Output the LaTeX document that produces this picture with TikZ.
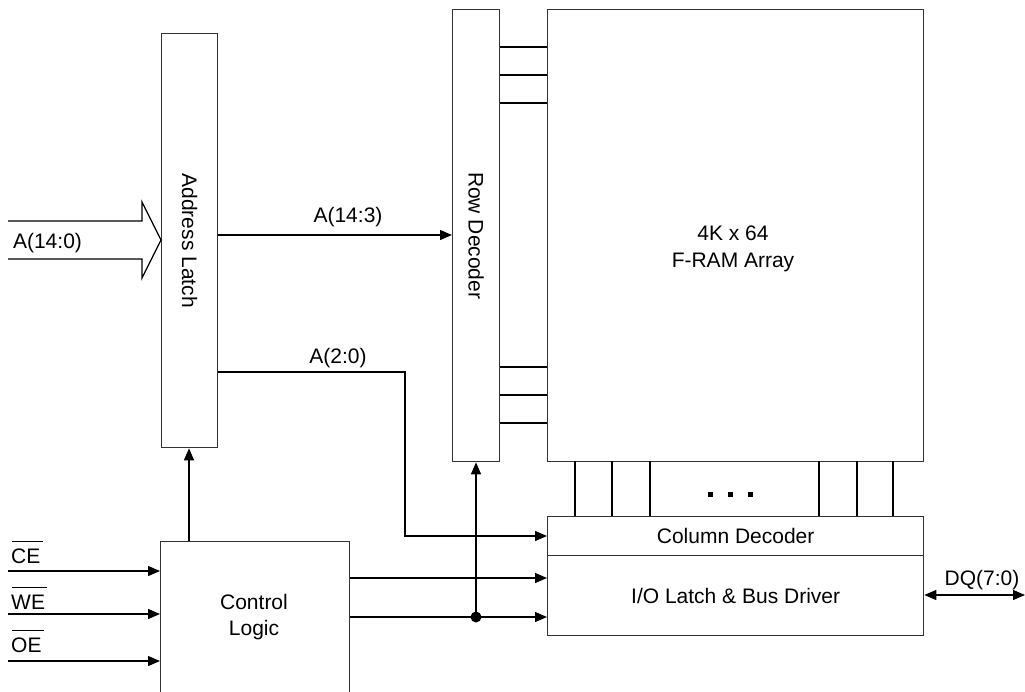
\documentclass[tikz,border=0pt]{standalone}
\usepackage{fontspec}
\setmainfont{Liberation Sans}
\usetikzlibrary{positioning, calc, arrows.meta}

\begin{document}
\begin{tikzpicture}[
x=1pt, y=-1pt,
block/.style={rectangle, draw=black!80, line width=1.3pt, inner sep=0pt, anchor=north west},
label/.style={font=\fontsize{21}{26.5}\selectfont, align=center, inner sep=0pt},
arrow/.style={-{Triangle[length=12pt, width=10pt]}, line width=1.3pt},
wire/.style={line width=1.3pt}
]
\useasboundingbox (0,0) rectangle (1025,691);

% Blocks
\node[block, minimum width=56pt, minimum height=414pt] (latch) at (161,33) {};
\node[block, minimum width=47pt, minimum height=452pt] (row_decoder) at (452,9) {};
\node[block, minimum width=376pt, minimum height=452pt] (array) at (547,9) {};
\node[block, minimum width=376pt, minimum height=39pt] (col_decoder) at (547,516) {};
\node[block, minimum width=376pt, minimum height=80pt] (io_latch) at (547,555) {};
\node[block, minimum width=189pt, minimum height=170pt] (control) at (160,541) {};

% Block texts
\node[label, rotate=-90] (latch_text) at (latch.center) {Address Latch};
\node[label, rotate=-90] (row_text) at (row_decoder.center) {Row Decoder};
\node[label] (array_text) at (733,249) {4K x 64\\F-RAM Array};
\node[label] (col_text) at (col_decoder.center) {Column Decoder};
\node[label] (io_text) at (io_latch.center) {I/O Latch \& Bus Driver};
\node[label] (control_text) at (254,617) {Control\\Logic};

% Row lines between decoder and array
\foreach \y in {47,75,103,367,395,423}
  \draw[wire] (row_decoder.east |- 0,\y) -- (array.west |- 0,\y);

% Column lines between array and column decoder
\foreach \x in {575,612,650,819,857,893}
  \draw[wire] (\x,461) -- (\x,516);
\foreach \x in {710,730,750}
  \fill (\x-2.5,491.5) rectangle (\x+2.5,496.5);

% Address input bus
\coordinate (bus_tip) at (latch.west |- 0,240);
\draw[wire, line join=miter] (8,221) -- (142,221) -- (142,202) -- (bus_tip) -- (142,278) -- (142,259) -- (8,259);
\node[label] (bus_text) at (47.5,243) {A(14:0)};

% Address paths
\coordinate (a_high) at (latch.east |- 0,235);
\draw[arrow] (a_high) -- (a_high -| row_decoder.west);
\node[label] (a_high_text) at (348,217) {A(14:3)};
\coordinate (a_low) at (latch.east |- 0,372);
\coordinate (a_turn) at (405,372);
\draw[arrow] (a_low) -- (a_turn) |- (col_decoder.west |- 0,536);
\node[label] (a_low_text) at (338,358) {A(2:0)};

% Control signals
\foreach \name/\y/\ty in {CE/571/556, WE/614/602, OE/661/645} {
  \draw[arrow] (8,\y) -- (control.west |- 0,\y);
  \node[label, anchor=west] (\name_text) at (11,\ty) {\name};
  \draw[line width=1.1pt] ([xshift=1pt, yshift=7pt]\name_text.north west) -- ([xshift=2pt, yshift=7pt]\name_text.north east);
}
\draw[arrow] (control.north -| 189,0) -- (latch.south -| 189,0);
\coordinate (ctrl_a) at (control.east |- 0,578);
\coordinate (ctrl_b) at (control.east |- 0,617);
\draw[arrow] (ctrl_a) -- (ctrl_a -| io_latch.west);
\draw[arrow] (ctrl_b) -- (ctrl_b -| io_latch.west);
\coordinate (junction) at (476,617);
\fill (junction) circle (5.5pt);
\draw[arrow] (junction) -- (junction |- row_decoder.south);

% Data bus
\coordinate (dq_end) at (1025,595);
\draw[{Triangle[length=12pt, width=10pt]}-{Triangle[length=12pt, width=10pt]}, line width=1.3pt] (io_latch.east |- dq_end) -- (dq_end);
\node[label] (dq_text) at (982,580) {DQ(7:0)};
\end{tikzpicture}
\end{document}
